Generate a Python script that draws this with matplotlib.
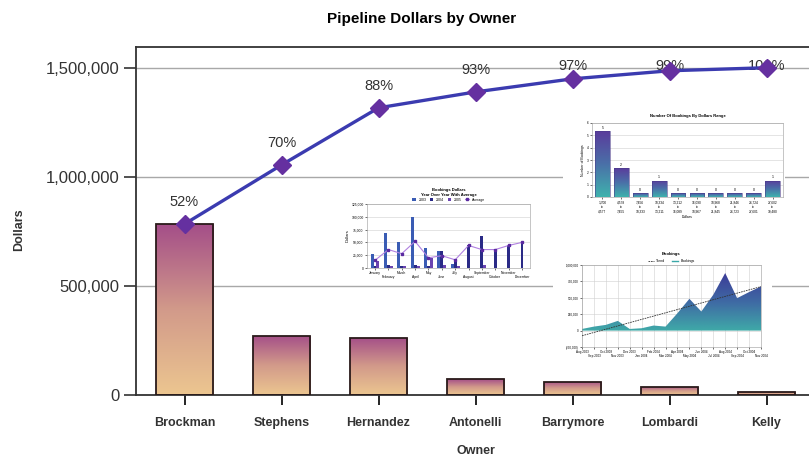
import matplotlib
matplotlib.use('Agg')
import matplotlib.pyplot as plt
import numpy as np
from matplotlib.colors import LinearSegmentedColormap
from matplotlib.ticker import FuncFormatter

plt.rcParams['font.family'] = ['Liberation Sans', 'DejaVu Sans']

# main pareto data
owners = ['Brockman', 'Stephens', 'Hernandez', 'Antonelli', 'Barrymore', 'Lombardi', 'Kelly']
dollars = [784000, 271000, 262000, 73000, 60000, 37000, 14000]

# thumbnail 1: bookings dollars year over year (thousands)
yoy_months = ['January', 'February', 'March', 'April', 'May', 'June', 'July',
              'August', 'September', 'October', 'November', 'December']
yoy_2003 = [28, 68, 50, 99, 40, 33, 8, 0, 0, 0, 0, 0]
yoy_2004 = [3, 5, 4, 5, 3, 34, 18, 44, 63, 37, 44, 50]
yoy_2005 = [14, 4, 3, 3, 20, 6, 3, 0, 5, 0, 0, 0]
yoy_avg = [15, 36, 28, 52, 20, 24, 16, 44, 36, 36, 44, 50]

# thumbnail 2: number of bookings by dollar range
range_labels = ['1,700\nto\n4,577', '4,578\nto\n7,455', '7,456\nto\n10,333',
                '10,334\nto\n13,211', '13,212\nto\n16,089', '16,090\nto\n18,967',
                '18,968\nto\n21,845', '21,846\nto\n24,723', '24,724\nto\n27,601',
                '27,602\nto\n30,480']
range_counts = [5, 2, 0, 1, 0, 0, 0, 0, 0, 1]

# thumbnail 3: bookings over time (thousands)
bk_months = ['Aug 2003', 'Sep 2003', 'Oct 2003', 'Nov 2003', 'Dec 2003', 'Jan 2004',
             'Feb 2004', 'Mar 2004', 'Apr 2004', 'May 2004', 'Jun 2004', 'Jul 2004',
             'Aug 2004', 'Sep 2004', 'Oct 2004', 'Nov 2004']
bk_values = [25, 61, 87, 148, 25, 36, 77, 61, 265, 485, 291, 546, 878, 495, 587, 673]

bar_cmap = LinearSegmentedColormap.from_list('bar', ['#ecc690', '#d29a8a', '#a44e88'])
teal_cmap = LinearSegmentedColormap.from_list('teal', ['#3fb2ad', '#4a70a8', '#5a3c9c'])
area_cmap = LinearSegmentedColormap.from_list('area', ['#3faaa8', '#3f6aa4', '#3c3c98'])


def gradient_fill(ax, clip, extent, cmap, z, transform=None):
    grad = np.linspace(1, 0, 256).reshape(-1, 1)
    im = ax.imshow(grad, cmap=cmap, extent=extent, aspect='auto', origin='upper',
                   zorder=z, interpolation='bilinear')
    if transform is None:
        im.set_clip_path(clip)
    else:
        im.set_clip_path(clip, transform)
    return im


def staggered_labels(ax, labels, size):
    # even labels on the first row, odd labels on a second row below
    idx = np.arange(len(labels))
    ax.set_xticks(idx[::2])
    ax.set_xticklabels(labels[::2])
    ax.set_xticks(idx[1::2], minor=True)
    ax.set_xticklabels(labels[1::2], minor=True)
    ax.tick_params(axis='x', which='major', labelsize=size, length=1.5, width=0.4, pad=1)
    ax.tick_params(axis='x', which='minor', labelsize=size, length=1.5, width=0.4,
                   pad=1 + size * 1.2)


fig = plt.figure(figsize=(8.09, 4.57), dpi=100)
ax = fig.add_axes([136 / 809, 62 / 457, 679 / 809, 348 / 457])

x = np.arange(len(owners))
bars = ax.bar(x, dollars, width=0.59, facecolor='none', edgecolor='#2a1a1a',
              linewidth=1.3, zorder=3)
for b in bars:
    x0, w, h = b.get_x(), b.get_width(), b.get_height()
    gradient_fill(ax, b, (x0, x0 + w, 0, h), bar_cmap, 2)

cum = np.cumsum(dollars)
pct = cum / cum[-1] * 100
ax.plot(x, cum, color='#3b3bb0', lw=2.4, marker='D', ms=9, mfc='#6530a0',
        mec='#6530a0', zorder=5)
# labels sit above each point but are kept below the top of the chart
label_y = np.minimum(cum + 101000, 1510000)
for xi, ly, p in zip(x, label_y, pct):
    ax.text(xi, ly, f'{p:.0f}%', ha='center', va='center', fontsize=10.5,
            color='#333333', zorder=4)

ax.set_xlim(-0.5, 6.5)
ax.set_ylim(0, 1596000)
ax.set_yticks([0, 500000, 1000000, 1500000])
ax.yaxis.set_major_formatter(FuncFormatter(lambda v, p: f'{v:,.0f}'))
ax.set_xticks(x)
ax.set_xticklabels(owners, fontweight='bold', fontsize=9, color='#333333')
ax.tick_params(axis='y', length=9, width=1.2, labelsize=12, colors='#333333', pad=3)
ax.tick_params(axis='x', length=7, width=1.2, pad=9)
ax.yaxis.grid(True, color='#a8a8a8', lw=1)
ax.set_axisbelow(True)
for s in ax.spines.values():
    s.set_color('#333333')
    s.set_linewidth(1.3)
ax.set_ylabel('Dollars', fontweight='bold', fontsize=9, color='#333333')
ax.yaxis.set_label_coords(-0.163, 0.474)
ax.set_xlabel('Owner', fontweight='bold', fontsize=9, color='#333333', labelpad=11)
fig.text(422 / 809, 1 - 19 / 457, 'Pipeline Dollars by Owner', ha='center', va='center',
         fontsize=11, fontweight='bold')


def white_box(rect):
    bg = fig.add_axes(rect, zorder=6)
    bg.set_xticks([])
    bg.set_yticks([])
    for s in bg.spines.values():
        s.set_visible(False)
    bg.set_facecolor('white')
    return bg


tiny = 3
# ---- thumbnail 1
white_box([338 / 809, 174 / 457, 200 / 809, 100 / 457])
a1 = fig.add_axes([367 / 809, 189 / 457, 163 / 809, 64 / 457], zorder=7)
xm = np.arange(len(yoy_months))
bw = 0.22
a1.bar(xm - bw, yoy_2003, bw, color='#3a5cb4', label='2003')
a1.bar(xm, yoy_2004, bw, color='#2a2a86', label='2004')
a1.bar(xm + bw, yoy_2005, bw, color='#6a44b0', label='2005')
a1.plot(xm, yoy_avg, color='#b080e0', lw=0.8, marker='s', ms=2, mfc='#5a2aa0',
        mec='#5a2aa0', label='Average')
a1.set_ylim(0, 125)
a1.set_yticks([0, 25, 50, 75, 100, 125])
a1.set_yticklabels(['0', '25,000', '50,000', '75,000', '100,000', '125,000'])
a1.set_xlim(-0.6, 11.6)
staggered_labels(a1, yoy_months, 2.4)
a1.tick_params(axis='y', labelsize=2.4, length=1.5, width=0.4, pad=1)
a1.yaxis.grid(True, color='#d0d0d0', lw=0.4)
a1.set_axisbelow(True)
a1.set_ylabel('Dollars', fontsize=tiny, labelpad=1)
for s in a1.spines.values():
    s.set_linewidth(0.4)
    s.set_color('#999999')
h1, l1 = a1.get_legend_handles_labels()
a1.legend(h1[1:] + h1[:1], l1[1:] + l1[:1], loc='lower center', bbox_to_anchor=(0.5, 1.0),
          ncol=4, fontsize=tiny - 0.5, frameon=False, handlelength=1, columnspacing=1,
          borderpad=0.2)
a1.set_title('Bookings Dollars\nYear Over Year With Average', fontsize=tiny,
             fontweight='bold', pad=6)

# ---- thumbnail 2
white_box([563 / 809, 235 / 457, 222 / 809, 117 / 457])
a2 = fig.add_axes([592 / 809, 260 / 457, 191 / 809, 74 / 457], zorder=7)
xr = np.arange(len(range_counts))
heights = np.array(range_counts) + 0.33
rb = a2.bar(xr, heights, width=0.78, facecolor='none', edgecolor='#4a3a8a', lw=0.4, zorder=3)
for b, c in zip(rb, range_counts):
    x0, w, h = b.get_x(), b.get_width(), b.get_height()
    gradient_fill(a2, b, (x0, x0 + w, 0, h), teal_cmap, 2)
    a2.text(b.get_x() + w / 2, h + 0.1, str(c), ha='center', va='bottom', fontsize=2.5)
a2.set_xlim(-0.55, 9.55)
a2.set_ylim(0, 6)
a2.set_yticks(range(7))
a2.set_xticks(xr)
a2.set_xticklabels(range_labels)
a2.tick_params(labelsize=2.3, length=1.5, width=0.4, pad=1)
a2.yaxis.grid(True, color='#d0d0d0', lw=0.4)
a2.set_axisbelow(True)
a2.set_ylabel('Number of Bookings', fontsize=2.5, labelpad=1)
a2.set_xlabel('Dollars', fontsize=2.5, labelpad=1)
for s in a2.spines.values():
    s.set_linewidth(0.4)
    s.set_color('#999999')
a2.set_title('Number Of Bookings By Dollars Range', fontsize=tiny, fontweight='bold', pad=4)

# ---- thumbnail 3
white_box([553 / 809, 90 / 457, 219 / 809, 122 / 457])
a3 = fig.add_axes([582 / 809, 110 / 457, 179 / 809, 82 / 457], zorder=7)
xb = np.arange(len(bk_values))
poly = a3.fill_between(xb, 0, bk_values, facecolor='none', edgecolor='none')
gradient_fill(a3, poly.get_paths()[0], (0, len(bk_values) - 1, 0, max(bk_values)),
              area_cmap, 2, transform=a3.transData)
a3.plot([], [], color='#3aa8a8', lw=1, label='Bookings')
fit = np.polyfit(xb, bk_values, 1)
a3.plot(xb, np.polyval(fit, xb), color='#333333', lw=0.6, ls=(0, (2, 1)), zorder=4,
        label='Trend')
a3.set_xlim(0, len(bk_values) - 1)
a3.set_ylim(-250, 1000)
a3.set_yticks([-250, 0, 250, 500, 750, 1000])
a3.set_yticklabels(['(250,000)', '0', '250,000', '500,000', '750,000', '1,000,000'])
staggered_labels(a3, bk_months, 2.2)
a3.tick_params(axis='y', labelsize=2.2, length=1.5, width=0.4, pad=1)
a3.grid(True, which='both', color='#d0d0d0', lw=0.4)
a3.set_axisbelow(True)
for s in a3.spines.values():
    s.set_linewidth(0.4)
    s.set_color('#999999')
h, l = a3.get_legend_handles_labels()
a3.legend(h[::-1], l[::-1], loc='lower center', bbox_to_anchor=(0.5, 1.0), ncol=2,
          fontsize=2.5, frameon=False, handlelength=1.5, borderpad=0.1)
a3.set_title('Bookings', fontsize=tiny, fontweight='bold', pad=7)

fig.savefig('out.png', dpi=100)
